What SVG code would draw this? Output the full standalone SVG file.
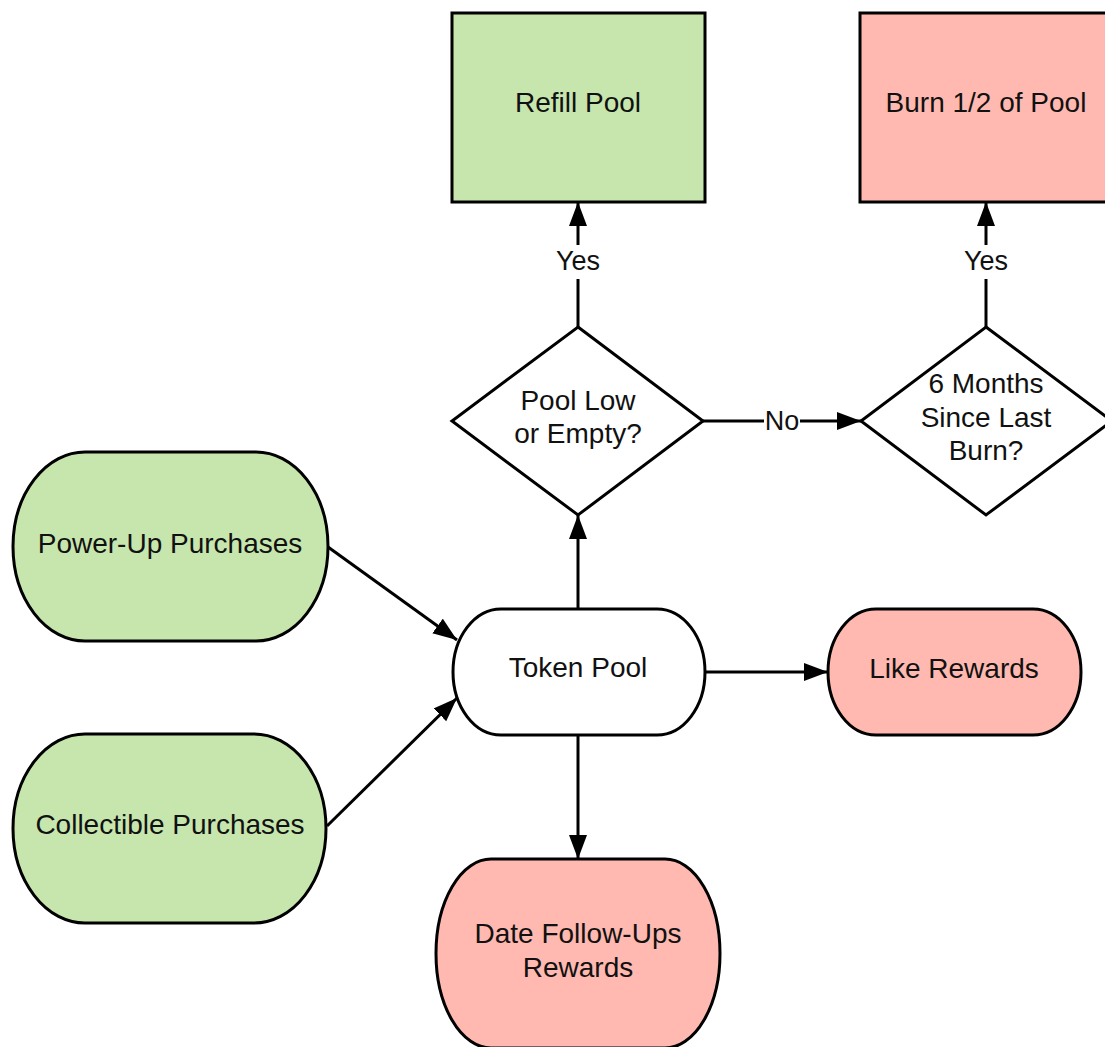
<svg xmlns="http://www.w3.org/2000/svg" width="1105" height="1047" viewBox="0 0 1105 1047">
<defs>
<marker id="arr" markerUnits="userSpaceOnUse" markerWidth="26" markerHeight="20" refX="24" refY="9" orient="auto">
<path d="M0,0 L24,9 L0,18 Z" fill="#000"/>
</marker>
<style>
.t{font-family:"Liberation Sans",Arial,sans-serif;font-size:28px;fill:#111;text-anchor:middle}
.lb{font-family:"Liberation Sans",Arial,sans-serif;font-size:27px;fill:#111;text-anchor:middle}
.g{fill:#c7e6ad;stroke:#000;stroke-width:3}
.r{fill:#ffb9b0;stroke:#000;stroke-width:3}
.w{fill:#fff;stroke:#000;stroke-width:3}
.c{fill:none;stroke:#000;stroke-width:3;marker-end:url(#arr)}
</style>
</defs>
<rect width="1105" height="1047" fill="#fff"/>
<g id="connectors">
<line class="c" x1="328" y1="547" x2="457" y2="640"/>
<line class="c" x1="327" y1="826" x2="457" y2="698"/>
<line class="c" x1="578" y1="609" x2="578" y2="515"/>
<line class="c" x1="705" y1="672" x2="828" y2="672"/>
<line class="c" x1="578" y1="735" x2="578" y2="859"/>
<line class="c" x1="578" y1="327" x2="578" y2="202"/>
<line class="c" x1="986" y1="327" x2="986" y2="202"/>
<line class="c" x1="703" y1="421" x2="861" y2="421"/>
<rect x="552" y="245" width="52" height="34" fill="#fff"/>
<text class="lb" x="578" y="270">Yes</text>
<rect x="960" y="245" width="52" height="34" fill="#fff"/>
<text class="lb" x="986" y="270">Yes</text>
<rect x="764" y="405" width="36" height="32" fill="#fff"/>
<text class="lb" x="782" y="430">No</text>
</g>
<g id="refill">
<rect class="g" x="452" y="13" width="253" height="189"/>
<text class="t" x="578" y="112">Refill Pool</text>
</g>
<g id="burn">
<rect class="r" x="860" y="13" width="253" height="189"/>
<text class="t" x="986" y="112">Burn 1/2 of Pool</text>
</g>
<g id="pool-low">
<polygon class="w" points="578,327 703,421 578,515 452,421"/>
<text class="t" x="578" y="410">Pool Low</text>
<text class="t" x="578" y="443">or Empty?</text>
</g>
<g id="six-months">
<polygon class="w" points="986,327 1112,421 986,515 861,421"/>
<text class="t" x="986" y="393">6 Months</text>
<text class="t" x="986" y="427">Since Last</text>
<text class="t" x="986" y="460">Burn?</text>
</g>
<g id="powerup">
<rect class="g" x="13" y="452" width="315" height="189" rx="72" ry="94.5"/>
<text class="t" x="170" y="553">Power-Up Purchases</text>
</g>
<g id="collectible">
<rect class="g" x="13" y="734" width="313" height="189" rx="72" ry="94.5"/>
<text class="t" x="170" y="834">Collectible Purchases</text>
</g>
<g id="token-pool">
<rect class="w" x="453" y="609" width="252" height="126" rx="48" ry="63"/>
<text class="t" x="578" y="677">Token Pool</text>
</g>
<g id="like-rewards">
<rect class="r" x="828" y="609" width="253" height="126" rx="48" ry="63"/>
<text class="t" x="954" y="678">Like Rewards</text>
</g>
<g id="date-rewards">
<rect class="r" x="436" y="859" width="284" height="189" rx="55" ry="94.5"/>
<text class="t" x="578" y="943">Date Follow-Ups</text>
<text class="t" x="578" y="977">Rewards</text>
</g>
</svg>
